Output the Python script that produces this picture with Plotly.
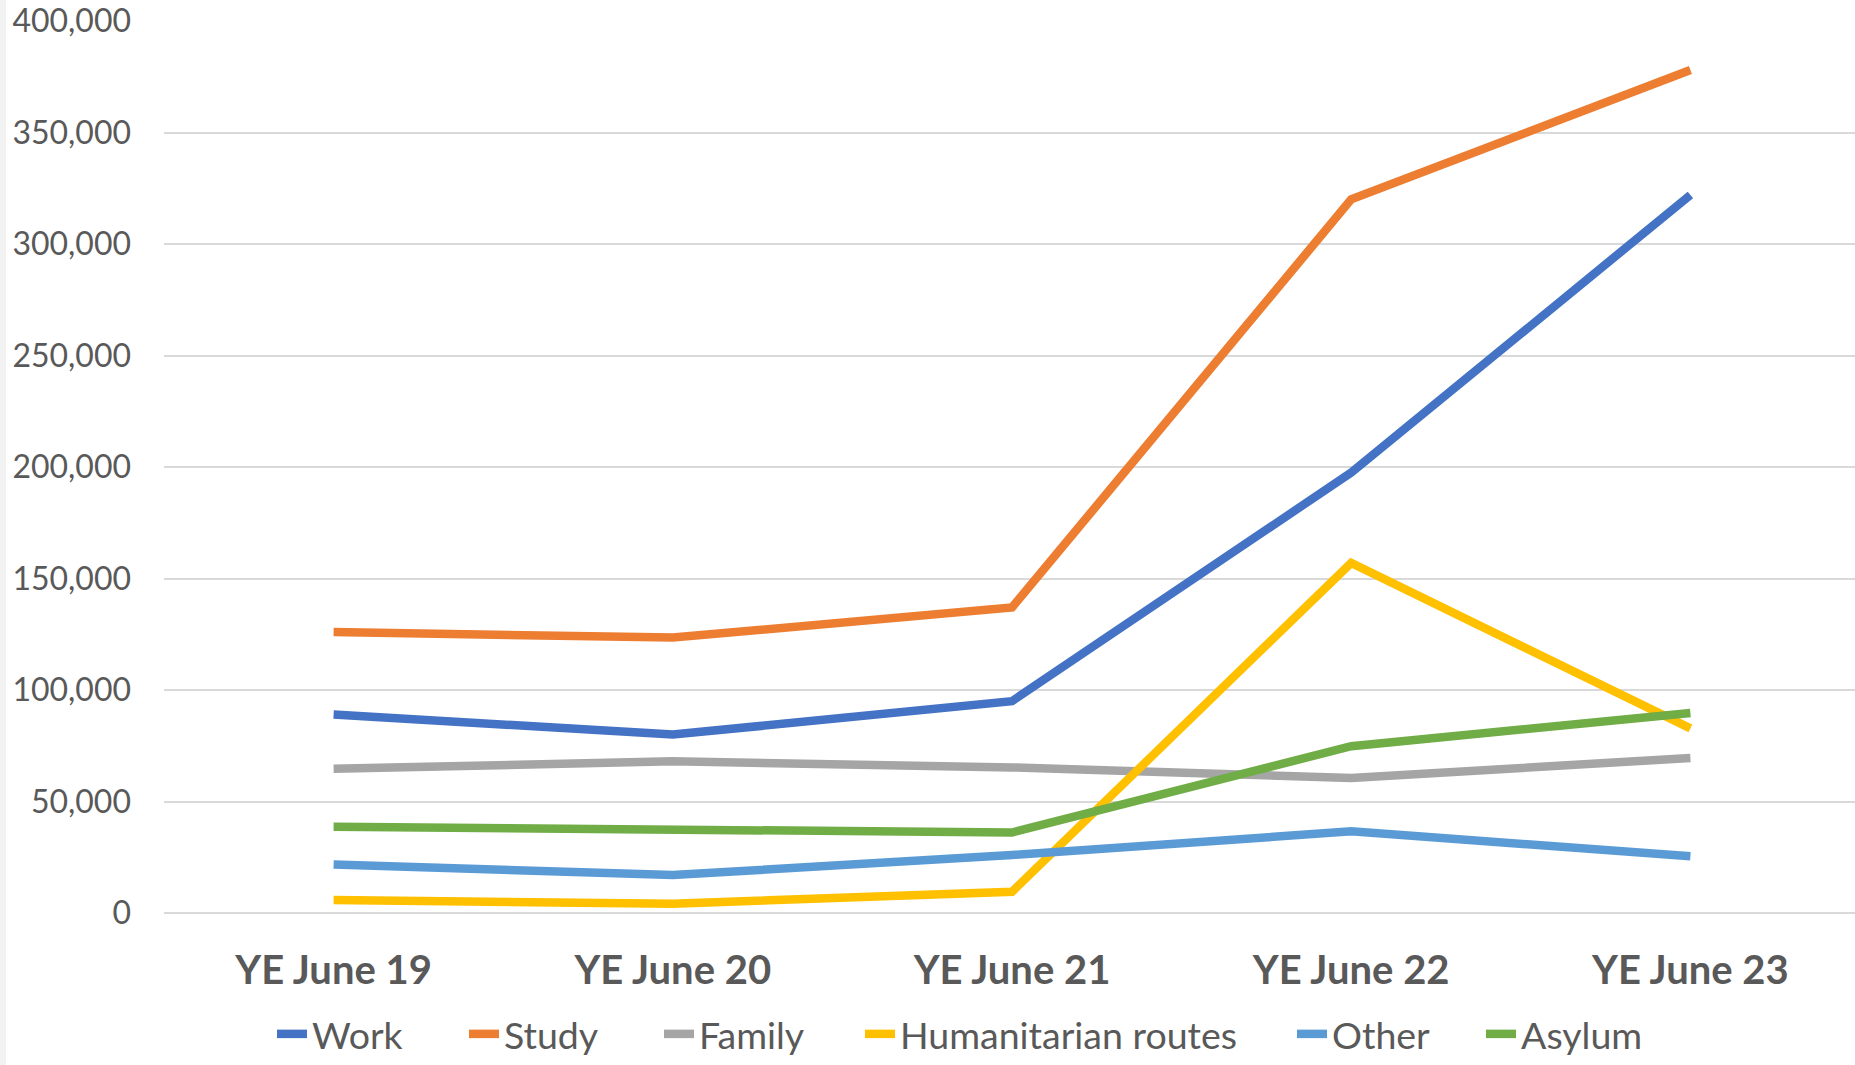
import plotly.graph_objects as go

categories = ["YE June 19", "YE June 20", "YE June 21", "YE June 22", "YE June 23"]
work = [89000, 80000, 95000, 197500, 322000]
study = [126000, 123500, 137000, 320000, 378000]
family = [64700, 68000, 65300, 60500, 69500]
humanitarian = [5800, 4200, 9500, 157000, 82800]
other = [21800, 17000, 26000, 36600, 25500]
asylum = [38700, 37700, 36100, 74800, 89700]

series_names = ["Work", "Study", "Family", "Humanitarian routes", "Other", "Asylum"]
series_values = [work, study, family, humanitarian, other, asylum]
colors = ["#4472C4", "#ED7D31", "#A5A5A5", "#FFC000", "#5B9BD5", "#70AD47"]

y_tickvals = [0, 50000, 100000, 150000, 200000, 250000, 300000, 350000, 400000]

W, H = 1855, 1065
L, R, T, B = 164, 0, 21, 152
plot_w = W - L - R
plot_h = H - T - B

# legend text start positions (pixels in full image)
legend_text_x = [311, 503, 698, 899, 1331, 1520]

fig = go.Figure()
legend_layouts = {}
for i, (name, vals, col) in enumerate(zip(series_names, series_values, colors)):
    lname = "legend" if i == 0 else f"legend{i+1}"
    fig.add_trace(go.Scatter(
        x=list(range(len(categories))), y=vals, name=name, mode="lines",
        line=dict(color=col, width=8.5), legend=lname,
    ))
    legend_layouts[lname] = dict(
        orientation="h", x=(legend_text_x[i] - 39 - L) / plot_w, xanchor="left",
        y=(T + plot_h - 1065) / plot_h, yanchor="bottom",
        font=dict(size=37.5, color="#595959"),
        bgcolor="rgba(0,0,0,0)",
    )

fig.update_layout(
    width=W, height=H,
    margin=dict(l=L, r=R, t=T, b=B, pad=0, autoexpand=False),
    paper_bgcolor="white", plot_bgcolor="white",
    font=dict(family="Lato, Carlito, sans-serif", color="#595959"),
    showlegend=True,
    xaxis=dict(
        range=[-0.5, -0.5 + plot_w / 339.2], automargin=False,
        tickmode="array", tickvals=list(range(len(categories))), ticktext=categories,
        tickfont=dict(size=40, color="#595959", family="Lato, Carlito, sans-serif", weight="bold"),
        showgrid=False, zeroline=False, showline=False, ticks="",
        ticklabelstandoff=30,
    ),
    yaxis=dict(
        range=[0, 400000], automargin=False, tickmode="array", tickvals=y_tickvals,
        tickformat=",d",
        tickfont=dict(size=32, color="#595959"),
        showgrid=True, gridcolor="#D9D9D9", gridwidth=1.5,
        zeroline=True, zerolinecolor="#D9D9D9", zerolinewidth=1.5,
        showline=False, ticks="", ticklabelstandoff=32,
    ),
    shapes=[dict(type="rect", xref="paper", yref="paper",
                 x0=-L / plot_w, x1=(-L + 6) / plot_w, y0=-B / plot_h, y1=1 + T / plot_h,
                 fillcolor="#F2F2F2", line=dict(width=0), layer="below")],
    **legend_layouts,
)

fig.write_html(
    "out.html",
    config={"displayModeBar": False},
    post_script="document.body.style.margin='0';document.body.style.overflow='hidden';",
)
